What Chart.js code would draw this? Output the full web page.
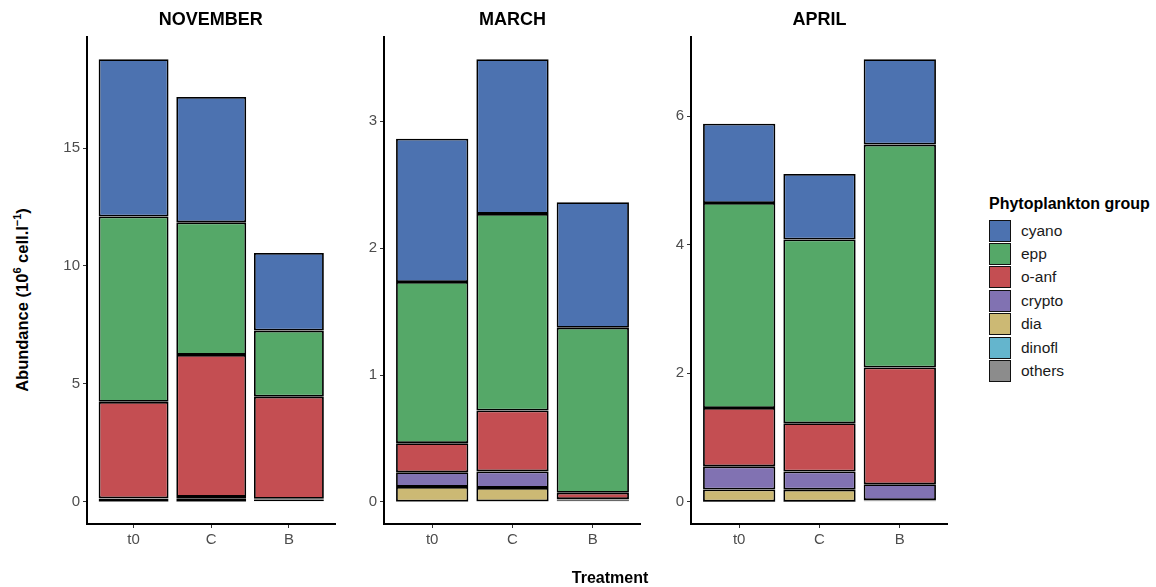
<!DOCTYPE html>
<html><head><meta charset="utf-8">
<script src="https://cdn.jsdelivr.net/npm/chart.js@4.4.1/dist/chart.umd.min.js"></script>
<style>
html,body{margin:0;padding:0;background:#fff;}
body{width:1156px;height:587px;overflow:hidden;position:relative;font-family:"Liberation Sans",Arial,sans-serif;}
canvas{position:absolute;top:0;}
.ptitle{position:absolute;top:9px;font-weight:bold;font-size:18px;line-height:20px;transform:translateX(-50%);white-space:nowrap;color:#000;}
#xtitle{position:absolute;left:610px;top:569px;transform:translateX(-50%);font-weight:bold;font-size:16px;line-height:18px;white-space:nowrap;}
#ytitle{position:absolute;left:22px;top:300px;transform:translate(-50%,-50%) rotate(-90deg);font-weight:bold;font-size:16.5px;line-height:18px;white-space:nowrap;}
#ytitle sup{font-size:11px;vertical-align:7px;line-height:0;}
#legend{position:absolute;left:989px;top:196px;}
#legend .lt{font-weight:bold;font-size:16px;line-height:15px;white-space:nowrap;margin-bottom:8px;}
#legend .row{height:23.4px;display:flex;align-items:center;}
#legend .key{width:22px;height:22px;box-sizing:border-box;border:1.5px solid #111;}
#legend .lab{margin-left:10px;font-size:15.5px;color:#1a1a1a;}
</style></head><body>
<canvas id="c0"></canvas><canvas id="c1"></canvas><canvas id="c2"></canvas>
<div id="titles"></div>
<div id="xtitle">Treatment</div>
<div id="ytitle">Abundance (10<sup>6</sup> cell.l<sup>−1</sup>)</div>
<div id="legend"></div>
<script>
// ---- data ----
const categories = ['t0', 'C', 'B'];
const groups = ['cyano', 'epp', 'o-anf', 'crypto', 'dia', 'dinofl', 'others'];
const groupColors = ['#4C72B0', '#55A868', '#C44E52', '#8172B2', '#CCB974', '#64B5CD', '#8C8C8C'];
const months = ['NOVEMBER', 'MARCH', 'APRIL'];

// November (t0, C, B)
const novCyano  = [6.67, 5.32, 3.29];
const novEpp    = [7.86, 5.62, 2.80];
const novOanf   = [4.09, 6.02, 4.33];
const novCrypto = [0.02, 0.06, 0.01];
const novDia    = [0.11, 0.13, 0.02];
const novDinofl = [0.01, 0.01, 0.02];
const novOthers = [0.01, 0.01, 0.08];

// March
const marCyano  = [1.13, 1.22, 0.99];
const marEpp    = [1.27, 1.55, 1.30];
const marOanf   = [0.23, 0.48, 0.05];
const marCrypto = [0.115, 0.13, 0.002];
const marDia    = [0.115, 0.105, 0.003];
const marDinofl = [0.002, 0.003, 0.005];
const marOthers = [0.001, 0.002, 0.012];

// April
const aprCyano  = [1.235, 1.02, 1.33];
const aprEpp    = [3.19, 2.86, 3.47];
const aprOanf   = [0.907, 0.75, 1.815];
const aprCrypto = [0.36, 0.283, 0.245];
const aprDia    = [0.19, 0.187, 0.005];
const aprDinofl = [0.002, 0.002, 0.005];
const aprOthers = [0.001, 0.001, 0.02];

const novTicks = [0, 5, 10, 15];
const marTicks = [0, 1, 2, 3];
const aprTicks = [0, 2, 4, 6];

// ---- layout ----
const YW = 50;
const panels = [
  {left: 86.5, width: 248.5},
  {left: 384, width: 257},
  {left: 691, width: 257}
];
const FONT = '"Liberation Sans", Arial, sans-serif';

function makeChart(idx, series, ticks) {
  const p = panels[idx];
  const cv = document.getElementById('c' + idx);
  const w = Math.ceil(p.width + YW);
  cv.width = w; cv.height = 587;
  cv.style.width = w + 'px'; cv.style.height = '587px';
  cv.style.left = (p.left - YW) + 'px';
  const totals = categories.map((_, i) => series.reduce((s, arr) => s + arr[i], 0));
  const maxT = Math.max(...totals);
  const datasets = groups.map((g, gi) => ({
    label: g,
    data: series[gi].map((v, i) => ({x: i + 1, y: v})),
    backgroundColor: groupColors[gi],
    borderColor: '#000',
    borderWidth: 1.8,
    borderSkipped: false,
    barPercentage: 0.9,
    categoryPercentage: 1.0
  })).reverse();
  const t = document.createElement('div');
  t.className = 'ptitle';
  t.textContent = months[idx];
  t.style.left = (p.left + p.width / 2) + 'px';
  document.getElementById('titles').appendChild(t);
  new Chart(cv, {
    type: 'bar',
    data: {datasets},
    options: {
      responsive: false,
      animation: false,
      devicePixelRatio: 1,
      layout: {padding: {top: 37, right: w - YW - p.width, left: 0, bottom: 0}},
      plugins: {legend: {display: false}, tooltip: {enabled: false}, title: {display: false}},
      scales: {
        x: {
          type: 'linear', stacked: true, min: 0.4, max: 3.6, offset: false,
          afterBuildTicks: s => { s.ticks = categories.map((c, i) => ({value: i + 1})); },
          afterFit: s => { s.height = 63; },
          ticks: {
            callback: v => categories[Math.round(v) - 1],
            color: '#4D4D4D', font: {size: 15, family: FONT}, padding: 3,
            maxRotation: 0, autoSkip: false
          },
          grid: {display: true, offset: false, drawOnChartArea: false, drawTicks: true, tickLength: 4, color: '#333', lineWidth: 1},
          border: {display: true, color: '#000', width: 2}
        },
        y: {
          type: 'linear', stacked: true, min: -0.05 * maxT, max: 1.05 * maxT,
          afterBuildTicks: s => { s.ticks = ticks.map(v => ({value: v})); },
          afterFit: s => { s.width = YW; },
          ticks: {color: '#4D4D4D', font: {size: 15, family: FONT}, padding: 3, callback: v => String(v)},
          grid: {display: true, drawOnChartArea: false, drawTicks: true, tickLength: 4, color: '#333', lineWidth: 1},
          border: {display: true, color: '#000', width: 2}
        }
      }
    }
  });
}

makeChart(0, [novCyano, novEpp, novOanf, novCrypto, novDia, novDinofl, novOthers], novTicks);
makeChart(1, [marCyano, marEpp, marOanf, marCrypto, marDia, marDinofl, marOthers], marTicks);
makeChart(2, [aprCyano, aprEpp, aprOanf, aprCrypto, aprDia, aprDinofl, aprOthers], aprTicks);

// legend
const lg = document.getElementById('legend');
const lt = document.createElement('div');
lt.className = 'lt'; lt.textContent = 'Phytoplankton group';
lg.appendChild(lt);
groups.forEach((g, i) => {
  const r = document.createElement('div'); r.className = 'row';
  const k = document.createElement('div'); k.className = 'key'; k.style.background = groupColors[i];
  const l = document.createElement('div'); l.className = 'lab'; l.textContent = g;
  r.appendChild(k); r.appendChild(l); lg.appendChild(r);
});
</script>
</body></html>
